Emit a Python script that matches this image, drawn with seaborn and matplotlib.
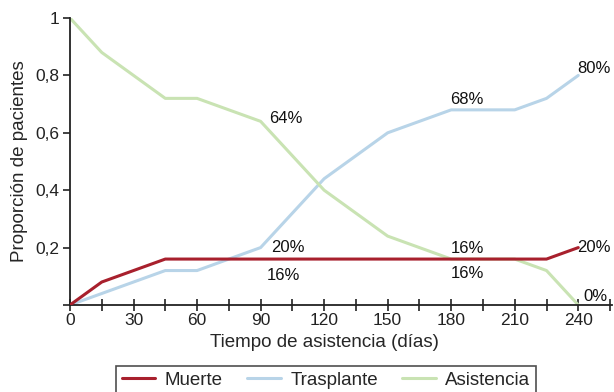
import pandas as pd
import matplotlib
matplotlib.use('Agg')
import matplotlib.pyplot as plt
import seaborn as sns

# --- DATA ---
dias = [0, 15, 45, 60, 90, 120, 150, 180, 210, 225, 240]
muerte = [0, 0.08, 0.16, 0.16, 0.16, 0.16, 0.16, 0.16, 0.16, 0.16, 0.20]
trasplante = [0, 0.04, 0.12, 0.12, 0.20, 0.44, 0.60, 0.68, 0.68, 0.72, 0.80]
asistencia = [1.0, 0.88, 0.72, 0.72, 0.64, 0.40, 0.24, 0.16, 0.16, 0.12, 0.0]

series = ['Muerte', 'Trasplante', 'Asistencia']
colores = ['#A8202D', '#B8D4E8', '#C9E3B3']

df = pd.DataFrame({
    'dias': dias * 3,
    'valor': muerte + trasplante + asistencia,
    'serie': [s for s in series for _ in dias],
})

# etiquetas: (serie, dia, desplazamiento x/y en pixeles)
etiquetas = [
    ('Asistencia', 90, 25, 3),
    ('Trasplante', 90, 27, 0),
    ('Muerte', 90, 23, -16),
    ('Trasplante', 180, 16, 10),
    ('Asistencia', 180, 16, 11),
    ('Muerte', 180, 16, -14),
    ('Trasplante', 240, 16, 7),
    ('Muerte', 240, 16, 0),
    ('Asistencia', 240, 17, 8),
]

sns.set_style('ticks')
plt.rcParams['font.family'] = ['Liberation Sans', 'DejaVu Sans']

fig = plt.figure(figsize=(6.14, 3.92), dpi=100)
ax = fig.add_axes([0.114, 0.222, 0.883, 0.732])

sns.lineplot(data=df, x='dias', y='valor', hue='serie', hue_order=series,
             palette=colores, linewidth=2.2, ax=ax, legend=False)
# la roja encima
ax.lines[0].set_zorder(5)

for serie, dia, dx, dy in etiquetas:
    sub = df[(df['serie'] == serie) & (df['dias'] == dia)]
    v = sub['valor'].iloc[0]
    ax.annotate(f"{int(round(v * 100))}%", xy=(dia, v), xytext=(dx, dy),
                textcoords='offset pixels', ha='center', va='center',
                fontsize=12, color='#111111')

ax.set_xlim(0, 256)
ax.set_ylim(0, 1)
ax.set_xticks(range(0, 241, 30))
ax.set_xticks(range(15, 256, 30), minor=True)
ax.set_yticks([0, 0.2, 0.4, 0.6, 0.8, 1.0])
ax.set_yticklabels(['', '0,2', '0,4', '0,6', '0,8', '1'])
ax.tick_params(axis='x', which='both', direction='inout', length=8, width=1.2,
               labelsize=12.5, colors='#222222', pad=2)
ax.tick_params(axis='y', direction='out', length=5, width=1.2, labelsize=12.5,
               colors='#222222', pad=3)
for s in ['left', 'bottom']:
    ax.spines[s].set_linewidth(1.3)
    ax.spines[s].set_color('#222222')
sns.despine(ax=ax)

ax.set_xlabel('Tiempo de asistencia (días)', fontsize=13.5, labelpad=4, x=120 / 256)
ax.set_ylabel('Proporción de pacientes', fontsize=13.5, labelpad=5)

handles = [plt.Line2D([], [], color=c, lw=2.2) for c in colores]
leg = fig.legend(handles, series, loc='lower center', bbox_to_anchor=(0.531, -0.03),
                 ncol=3, fontsize=13.5, frameon=True, fancybox=False,
                 edgecolor='#222222', handlelength=1.8, columnspacing=1.3,
                 borderpad=0.3, handletextpad=0.5)
leg.get_frame().set_linewidth(1.2)

fig.savefig('out.png', dpi=100)
